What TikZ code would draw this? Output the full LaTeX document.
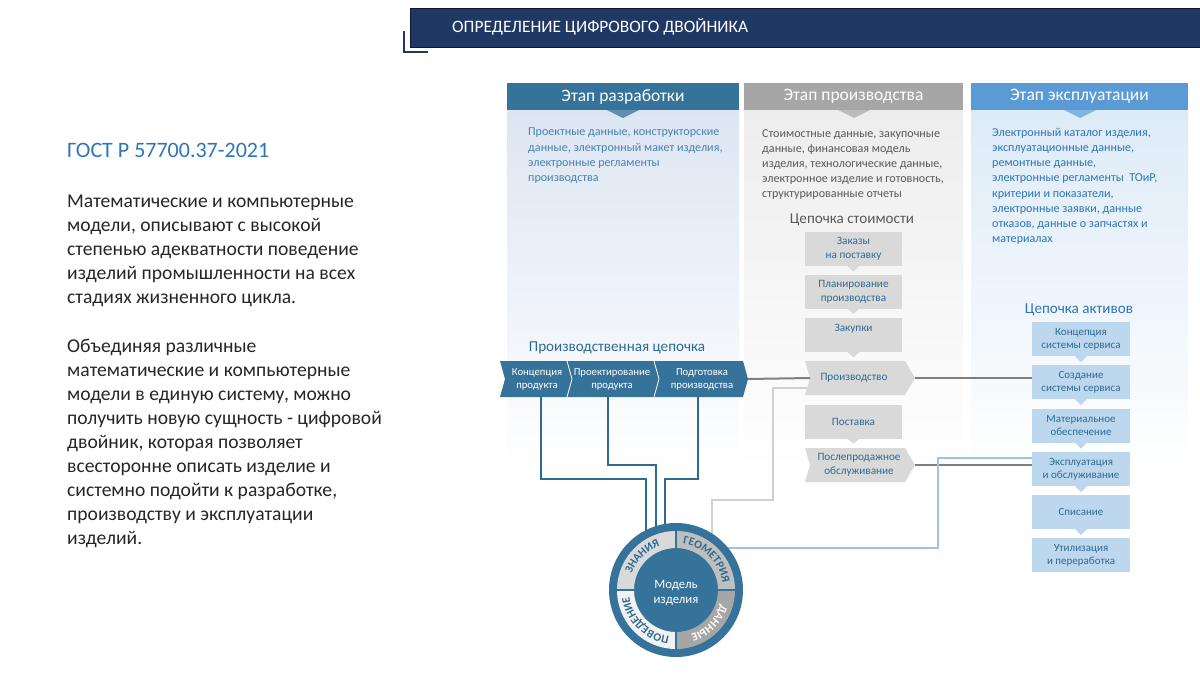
\documentclass[tikz,border=0pt]{standalone}
\usepackage{fontspec}
\setmainfont{Carlito}
\usetikzlibrary{decorations.text}

\definecolor{navy}{HTML}{203864}
\definecolor{steel}{HTML}{36739A}
\definecolor{steeldark}{HTML}{2E6A93}
\definecolor{stagegray}{HTML}{A6A6A6}
\definecolor{stagelight}{HTML}{5B9BD5}
\definecolor{bodyblue}{HTML}{DCE6F2}
\definecolor{bodygray}{HTML}{EDEDED}
\definecolor{bodylight}{HTML}{DDEBF7}
\definecolor{boxgray}{HTML}{D9D9D9}
\definecolor{boxblue}{HTML}{BDD7EE}
\definecolor{txtblue}{HTML}{2E75B6}
\definecolor{txtmid}{HTML}{4A80B2}
\definecolor{txtgray}{HTML}{595959}
\definecolor{txtdark}{HTML}{262626}
\definecolor{linegray}{HTML}{7F7F7F}
\definecolor{linelight}{HTML}{D0D0D0}
\definecolor{lineblue}{HTML}{9DC3E6}
\definecolor{segknow}{HTML}{D9D9D9}
\definecolor{seggeom}{HTML}{BFBFBF}
\definecolor{segdata}{HTML}{A6A6A6}
\definecolor{segbeh}{HTML}{F2F2F2}

\begin{document}
\begin{tikzpicture}[x=1pt,y=1pt,yscale=-1,
  stagehead/.style={text=white, inner sep=0pt, font=\fontsize{17.5}{20}\selectfont},
  stagetext/.style={anchor=north west, align=left, inner sep=0pt, font=\fontsize{12.1}{15.2}\selectfont},
  chainlabel/.style={inner sep=0pt, font=\fontsize{15.1}{18}\selectfont},
  chaintext/.style={text=white, align=center, inner sep=0pt, font=\fontsize{10.7}{13}\selectfont},
  boxtext/.style={inner sep=0pt, align=center, text=steeldark, font=\fontsize{11.2}{14}\selectfont},
  graybox/.style={fill=boxgray, minimum width=97pt, minimum height=34pt, boxtext},
  bluebox/.style={fill=boxblue, minimum width=98pt, minimum height=34pt, boxtext, font=\fontsize{11}{13.2}\selectfont},
  link/.style={line width=2pt, steeldark},
  grayline/.style={line width=2pt, linegray}
]
\useasboundingbox (0,0) rectangle (1200,675);

% title bar
\fill[navy] (410,8) rectangle (1200,47);
\draw[line width=0.8pt, black!55!navy] (410,8) rectangle (1200,47);
\draw[navy, line width=2.5pt] (404,31) -- (404,52) -- (428,52);
\node[anchor=west, text=white, inner sep=0pt, font=\fontsize{17.4}{20}\selectfont] (title) at (452,27) {ОПРЕДЕЛЕНИЕ ЦИФРОВОГО ДВОЙНИКА};

% left text
\node[anchor=west, inner sep=0pt, text=txtblue, font=\fontsize{22}{26}\selectfont] (gost) at (67,150) {ГОСТ Р 57700.37-2021};
\node[anchor=north west, align=left, inner sep=0pt, text=txtdark, font=\fontsize{19.6}{24}\selectfont] (para1) at (67,195) {Математические и компьютерные\\модели, описывают с высокой\\степенью адекватности поведение\\изделий промышленности на всех\\стадиях жизненного цикла.};
\node[anchor=north west, align=left, inner sep=0pt, text=txtdark, font=\fontsize{19.6}{24}\selectfont] (para2) at (67,339) {Объединяя различные\\математические и компьютерные\\модели в единую систему, можно\\получить новую сущность - цифровой\\двойник, которая позволяет\\всесторонне описать изделие и\\системно подойти к разработке,\\производству и эксплуатации\\изделий.};

% stage columns
\shade[top color=bodyblue, bottom color=white] (507,110) rectangle (739,470);
\shade[top color=bodygray, bottom color=white] (744,110) rectangle (963,470);
\shade[top color=bodylight, bottom color=white] (971,110) rectangle (1188,470);

\fill[steel] (507,83) rectangle (739,110);
\fill[steel!80!white] (607,110) -- (623,118) -- (639,110) -- cycle;
\node[stagehead] (dev) at (623,96.5) {Этап разработки};
\fill[stagegray] (744,83) rectangle (963,110);
\fill[stagegray!75!white] (838,110) -- (854,118) -- (870,110) -- cycle;
\node[stagehead] (prod) at (853.5,96.5) {Этап производства};
\fill[stagelight] (971,83) rectangle (1188,110);
\fill[stagelight!75!white] (1064,110) -- (1080,118) -- (1096,110) -- cycle;
\node[stagehead] (oper) at (1079.5,96.5) {Этап эксплуатации};

\node[stagetext, text=txtmid] (devtext) at (528,128) {Проектные данные, конструкторские\\данные, электронный макет изделия,\\электронные регламенты\\производства};
\node[stagetext, text=txtgray] (prodtext) at (762,129) {Стоимостные данные, закупочные\\данные, финансовая модель\\изделия, технологические данные,\\электронное изделие и готовность,\\структурированные отчеты};
\node[stagetext, text=txtblue] (opertext) at (992,128) {Электронный каталог изделия,\\эксплуатационные данные,\\ремонтные данные,\\электронные регламенты~~ТОиР,\\критерии и показатели,\\электронные заявки, данные\\отказов, данные о запчастях и\\материалах};

% production chain
\node[chainlabel, text=steeldark] (chainlbl) at (617,348) {Производственная цепочка};
\fill[steel] (500,361) -- (743,361) -- (748,379) -- (743,397) -- (500,397) -- (505,379) -- cycle;
\draw[white, line width=0.8pt] (567,361) -- (572,379) -- (567,397);
\draw[white, line width=0.8pt] (654,361) -- (659,379) -- (654,397);
\node[chaintext] (kp) at (537,379) {Концепция\\продукта};
\node[chaintext] (pp) at (612,379) {Проектирование\\продукта};
\node[chaintext] (pdp) at (702,379) {Подготовка\\производства};
\coordinate (kpB) at (541,397);
\coordinate (ppB) at (608,397);
\coordinate (pdpB) at (698,397);
\coordinate (pdpR) at (748,379);

% value chain
\node[chainlabel, text=txtgray] (vallbl) at (852,220) {Цепочка стоимости};
\node[graybox] (zak) at (853.5,249) {Заказы\\на поставку};
\fill[boxgray] ([xshift=-6pt]zak.south) -- ++(6,5) -- ++(6,-5) -- cycle;
\node[graybox] (plan) at (853.5,291.5) {Планирование\\производства};
\fill[boxgray] ([xshift=-6pt]plan.south) -- ++(6,5) -- ++(6,-5) -- cycle;
\node[graybox] (zakup) at (853.5,335) {Закупки\\~};
\fill[boxgray] ([xshift=-6pt]zakup.south) -- ++(6,5) -- ++(6,-5) -- cycle;
\fill[boxgray] (805,361) -- (905,361) -- (915,378) -- (905,395) -- (805,395) -- (810,378) -- cycle;
\node[boxtext] (proizv) at (854,378) {Производство};
\node[graybox] (post) at (853.5,421.5) {Поставка};
\fill[boxgray] ([xshift=-6pt]post.south) -- ++(6,5) -- ++(6,-5) -- cycle;
\fill[boxgray] (805,448) -- (905,448) -- (915,465) -- (905,482) -- (805,482) -- (810,465) -- cycle;
\node[boxtext] (posle) at (859,465) {Послепродажное\\обслуживание};
\coordinate (proizvL) at (810,378);
\coordinate (proizvR) at (915,378);
\coordinate (proizvBL) at (807,388);
\coordinate (posleR) at (915,465);

% asset chain
\node[chainlabel, text=txtblue] (assetlbl) at (1079,310) {Цепочка активов};
\node[bluebox] (ks) at (1081,339) {Концепция\\системы сервиса};
\node[bluebox] (ss) at (1081,382) {Создание\\системы сервиса};
\node[bluebox] (mo) at (1081,425.5) {Материальное\\обеспечение};
\node[bluebox] (eo) at (1081,469) {Эксплуатация\\и обслуживание};
\node[bluebox] (sp) at (1081,512) {Списание};
\node[bluebox] (ut) at (1081,555) {Утилизация\\и переработка};
\foreach \b in {ks,ss,mo,eo,sp}
  \fill[boxblue] ([xshift=-6pt]\b.south) -- ++(6,6) -- ++(6,-6) -- cycle;

% connectors
\coordinate (mc) at (676,590);
\draw[grayline] (pdpR) -- (proizvL);
\draw[grayline] (proizvR) -- (proizvR -| ss.west);
\draw[grayline] (posleR) -- (posleR -| eo.west);
\draw[link] (kpB) -- ++(0,82) -| ([xshift=-30pt]mc);
\draw[link] (ppB) -- ++(0,68) -| ([xshift=-20pt]mc);
\draw[link] (pdpB) -- ++(0,82) -| ([xshift=-11pt]mc);
\draw[linelight, line width=1.5pt] (proizvBL) -| (773,500) -| ([xshift=36pt]mc);
\draw[lineblue, line width=1.5pt] ([yshift=-11pt]eo.west) -| (938,548) -- (mc |- 0,548);

% product model
\node[circle, fill=steel, minimum size=134pt, inner sep=0pt] (model) at (mc) {};
\begin{scope}[shift={(mc)}, yscale=-1]
  \fill[segknow] (90:59) arc[start angle=90, end angle=180, radius=59] -- (180:42) arc[start angle=180, end angle=90, radius=42] -- cycle;
  \fill[seggeom] (0:59) arc[start angle=0, end angle=90, radius=59] -- (90:42) arc[start angle=90, end angle=0, radius=42] -- cycle;
  \fill[segdata] (270:59) arc[start angle=270, end angle=360, radius=59] -- (0:42) arc[start angle=360, end angle=270, radius=42] -- cycle;
  \fill[segbeh] (180:59) arc[start angle=180, end angle=270, radius=59] -- (270:42) arc[start angle=270, end angle=180, radius=42] -- cycle;
  \foreach \a in {0,90,180,270}
    \draw[steel, line width=2.5pt] (\a:40) -- (\a:60);
  \path[decorate, decoration={text along path, text align=center, text color=steeldark,
      text={|\fontsize{11.5}{11.5}\selectfont\bfseries|ЗНАНИЯ}}]
    (178:47) arc[start angle=178, end angle=92, radius=47];
  \path[decorate, decoration={text along path, text align=center, text color=steeldark,
      text={|\fontsize{11.5}{11.5}\selectfont\bfseries|ГЕОМЕТРИЯ}}]
    (89:47) arc[start angle=89, end angle=1, radius=47];
  \path[decorate, decoration={text along path, text align=center, text color=white,
      text={|\fontsize{11.5}{11.5}\selectfont\bfseries|ДАННЫЕ}}]
    (-2:47) arc[start angle=-2, end angle=-88, radius=47];
  \path[decorate, decoration={text along path, text align=center, text color=steeldark,
      text={|\fontsize{11.5}{11.5}\selectfont\bfseries|ПОВЕДЕНИЕ}}]
    (-91:47) arc[start angle=-91, end angle=-179, radius=47];
\end{scope}
\node[text=white, align=center, inner sep=0pt, font=\fontsize{12.8}{14.5}\selectfont] (modeltext) at (676,593) {Модель\\изделия};

\end{tikzpicture}
\end{document}
